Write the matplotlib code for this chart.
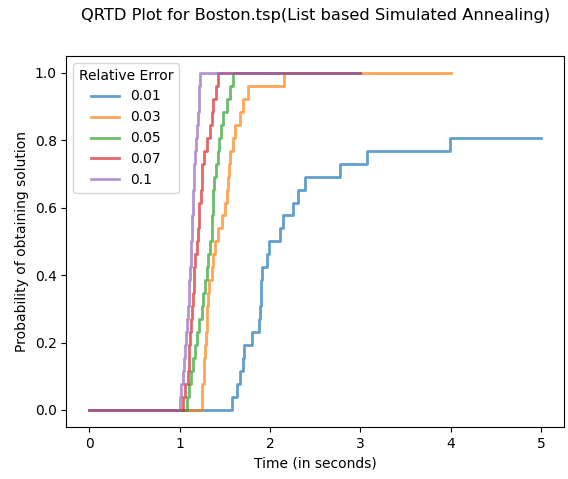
import matplotlib
matplotlib.use("Agg")
import matplotlib.pyplot as plt
import numpy as np

n_runs = 26
labels = ["0.01", "0.03", "0.05", "0.07", "0.1"]

t_001 = [1.578, 1.634, 1.663, 1.700, 1.718, 1.799, 1.873, 1.892, 1.900, 1.905,
         1.910, 1.965, 1.991, 2.113, 2.139, 2.253, 2.305, 2.389, 2.777, 3.072, 3.986]
t_003 = [1.246, 1.250, 1.265, 1.270, 1.280, 1.290, 1.300, 1.305, 1.310, 1.330,
         1.357, 1.370, 1.394, 1.430, 1.468, 1.500, 1.523, 1.540, 1.550, 1.560,
         1.590, 1.615, 1.670, 1.700, 1.762, 2.150]
t_005 = [1.080, 1.100, 1.130, 1.150, 1.170, 1.190, 1.220, 1.245, 1.260, 1.280,
         1.300, 1.320, 1.340, 1.355, 1.360, 1.370, 1.375, 1.380, 1.400, 1.420,
         1.440, 1.460, 1.480, 1.520, 1.560, 1.590]
t_007 = [1.040, 1.060, 1.090, 1.100, 1.110, 1.120, 1.130, 1.140, 1.150, 1.160,
         1.165, 1.175, 1.190, 1.200, 1.210, 1.220, 1.235, 1.245, 1.250, 1.265,
         1.300, 1.340, 1.360, 1.365, 1.400, 1.430]
t_01 = [1.007, 1.020, 1.040, 1.050, 1.060, 1.070, 1.080, 1.090, 1.100, 1.110,
        1.120, 1.125, 1.130, 1.135, 1.140, 1.145, 1.150, 1.155, 1.160, 1.170,
        1.180, 1.190, 1.200, 1.210, 1.215, 1.228]
end_times = [5.0, 4.0, 3.0, 3.0, 3.0]
series = [t_001, t_003, t_005, t_007, t_01]

fig = plt.figure(figsize=(5.68, 4.79), dpi=100)
ax = fig.add_axes([0.117, 0.109, 0.876, 0.774])
for times, end, lab in zip(series, end_times, labels):
    xs = [0.0] + list(times) + [end]
    probs = [0.0] + [(i + 1) / n_runs for i in range(len(times))]
    ys = probs + [probs[-1]]
    ax.step(xs, ys, where='post', linewidth=2, alpha=0.7, label=lab)

ax.set_xlabel("Time (in seconds)")
ax.set_ylabel("Probability of obtaining solution")
fig.suptitle("QRTD Plot for Boston.tsp(List based Simulated Annealing)",
             fontsize=11.7, x=0.556, y=0.983)
ax.legend(title="Relative Error", loc="upper left")
fig.savefig("out.png", dpi=100)
